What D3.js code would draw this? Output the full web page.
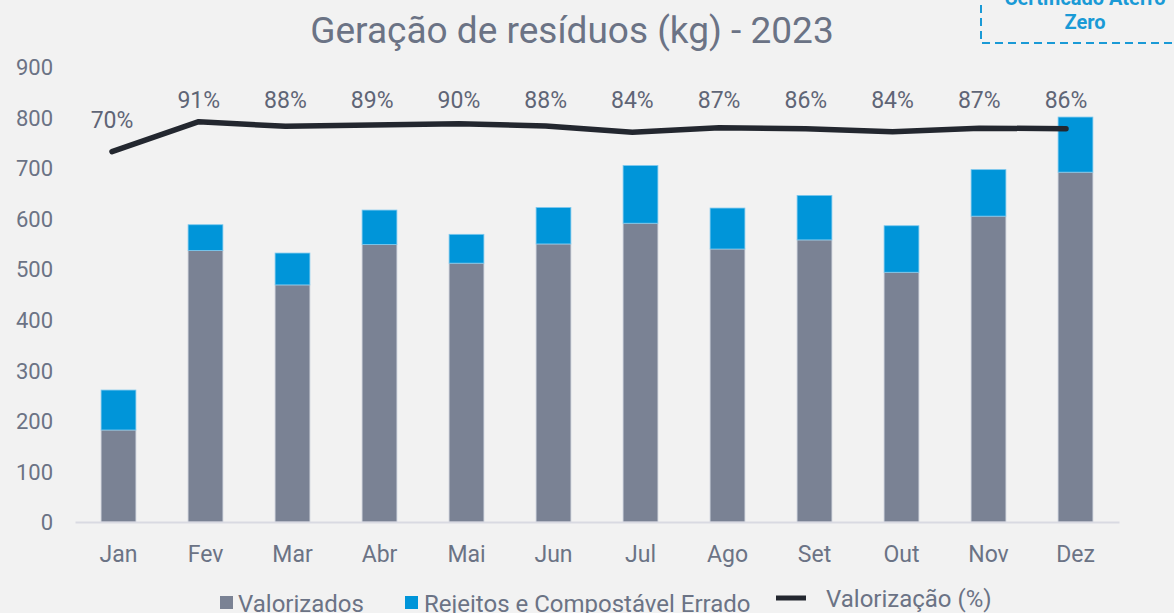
<!DOCTYPE html>
<html>
<head>
<meta charset="utf-8">
<script src="https://cdn.jsdelivr.net/npm/d3@7/dist/d3.min.js"></script>
<style>
  html, body { margin: 0; padding: 0; background: #f2f2f2; }
  svg { display: block; }
  text { font-family: Roboto, "Noto Sans", sans-serif; }
</style>
</head>
<body>
<svg id="chart" width="1174" height="613"></svg>
<script>
// ---- Data ----
const months = ["Jan", "Fev", "Mar", "Abr", "Mai", "Jun", "Jul", "Ago", "Set", "Out", "Nov", "Dez"];
const valorizados = [182, 537, 469, 549, 512, 550, 591, 540, 558, 494, 605, 692];
const rejeitos = [79, 51, 63, 68, 57, 72, 114, 81, 88, 92, 92, 109];
const valorizacaoPct = [0.70, 0.914, 0.881, 0.89, 0.90, 0.884, 0.839, 0.87, 0.864, 0.843, 0.868, 0.864];
const yTicks = [0, 100, 200, 300, 400, 500, 600, 700, 800, 900];
const title = "Geração de resíduos (kg) - 2023";
const seriesNames = ["Valorizados", "Rejeitos e Compostável Errado", "Valorização (%)"];
const badgeLines = ["Certificado Aterro", "Zero"];

// ---- Styles ----
const grayBar = "#7a8294";
const blueBar = "#0095d9";
const lineColor = "#23272f";
const textColor = "#6b7385";

const svg = d3.select("#chart");
svg.append("rect").attr("width", 1174).attr("height", 613).attr("fill", "#f2f2f2");

const x = d3.scaleBand().domain(months).range([75, 1119]).paddingInner(0.6).paddingOuter(0.3);
const y = d3.scaleLinear().domain([0, 900]).range([522, 67]);
const y2 = d3.scaleLinear().domain([-1.941, 1.304]).range([522, 67]);
const xLine = d3.scalePoint().domain(months).range([112, 1066]);

// Title
svg.append("text").attr("x", 572).attr("y", 43).attr("text-anchor", "middle")
  .attr("font-size", 37).attr("fill", textColor).text(title);

// Badge (top right)
svg.append("rect").attr("x", 981).attr("y", -20).attr("width", 220).attr("height", 63)
  .attr("fill", "none").attr("stroke", "#1a9ad6").attr("stroke-width", 2)
  .attr("stroke-dasharray", "8,5");
badgeLines.forEach((t, i) => {
  svg.append("text").attr("x", 1085).attr("y", 5 + i * 24).attr("text-anchor", "middle")
    .attr("font-size", 20).attr("font-weight", "bold").attr("fill", "#1a9ad6").text(t);
});

// Y axis labels
const yAxis = d3.axisLeft(y).tickValues(yTicks).tickSize(0).tickPadding(0);
const gy = svg.append("g").attr("transform", "translate(53,0)").call(yAxis);
gy.select(".domain").remove();
gy.selectAll("text").attr("font-size", 22).attr("fill", textColor)
  .attr("font-family", "Roboto, sans-serif").attr("dy", "0.35em");

// Bars
const stackData = months.map((m, i) => ({ m, v: valorizados[i], r: rejeitos[i] }));
const gb = svg.append("g");
gb.selectAll("rect.val").data(stackData).join("rect")
  .attr("x", d => x(d.m)).attr("width", x.bandwidth())
  .attr("y", d => y(d.v)).attr("height", d => y(0) - y(d.v))
  .attr("fill", grayBar).attr("stroke", "#c5cbd6").attr("stroke-width", 0.8);
gb.selectAll("rect.rej").data(stackData).join("rect")
  .attr("x", d => x(d.m)).attr("width", x.bandwidth())
  .attr("y", d => y(d.v + d.r)).attr("height", d => y(d.v) - y(d.v + d.r))
  .attr("fill", blueBar).attr("stroke", "#7cc8ee").attr("stroke-width", 0.8);

// X axis
const xAxis = d3.axisBottom(x).tickSize(0).tickPadding(0);
const gx = svg.append("g").attr("transform", "translate(0,522)").call(xAxis);
gx.select(".domain").attr("stroke", "#d9dae2").attr("stroke-width", 2);
gx.selectAll("text").attr("font-size", 23).attr("fill", textColor)
  .attr("font-family", "Roboto, sans-serif").attr("y", 40).attr("dy", 0);

// Line
const line = d3.line().x((d, i) => xLine(months[i])).y(d => y2(d));
svg.append("path").datum(valorizacaoPct).attr("d", line)
  .attr("fill", "none").attr("stroke", lineColor).attr("stroke-width", 5.5)
  .attr("stroke-linecap", "round").attr("stroke-linejoin", "round");

// Line labels
const fmt = d3.format(".0%");
svg.append("g").selectAll("text").data(valorizacaoPct).join("text")
  .attr("x", (d, i) => xLine(months[i]))
  .attr("y", d => Math.max(y2(d) - 32, 100))
  .attr("dy", "0.35em").attr("text-anchor", "middle")
  .attr("font-family", "'Open Sans', 'Noto Sans', sans-serif")
  .attr("font-size", 23).attr("fill", "#5f6576")
  .text(d => fmt(d));

// Legend
const lg = svg.append("g");
lg.append("rect").attr("x", 220).attr("y", 596).attr("width", 13).attr("height", 13).attr("fill", grayBar);
lg.append("text").attr("x", 238).attr("y", 612).attr("font-size", 24).attr("fill", textColor).text(seriesNames[0]);
lg.append("rect").attr("x", 405).attr("y", 596).attr("width", 13).attr("height", 13).attr("fill", blueBar);
lg.append("text").attr("x", 424).attr("y", 612).attr("font-size", 24).attr("fill", textColor).text(seriesNames[1]);
lg.append("line").attr("x1", 776).attr("x2", 806).attr("y1", 598).attr("y2", 598)
  .attr("stroke", lineColor).attr("stroke-width", 5);
lg.append("text").attr("x", 826).attr("y", 607).attr("font-size", 24).attr("fill", textColor).text(seriesNames[2]);
</script>
</body>
</html>
